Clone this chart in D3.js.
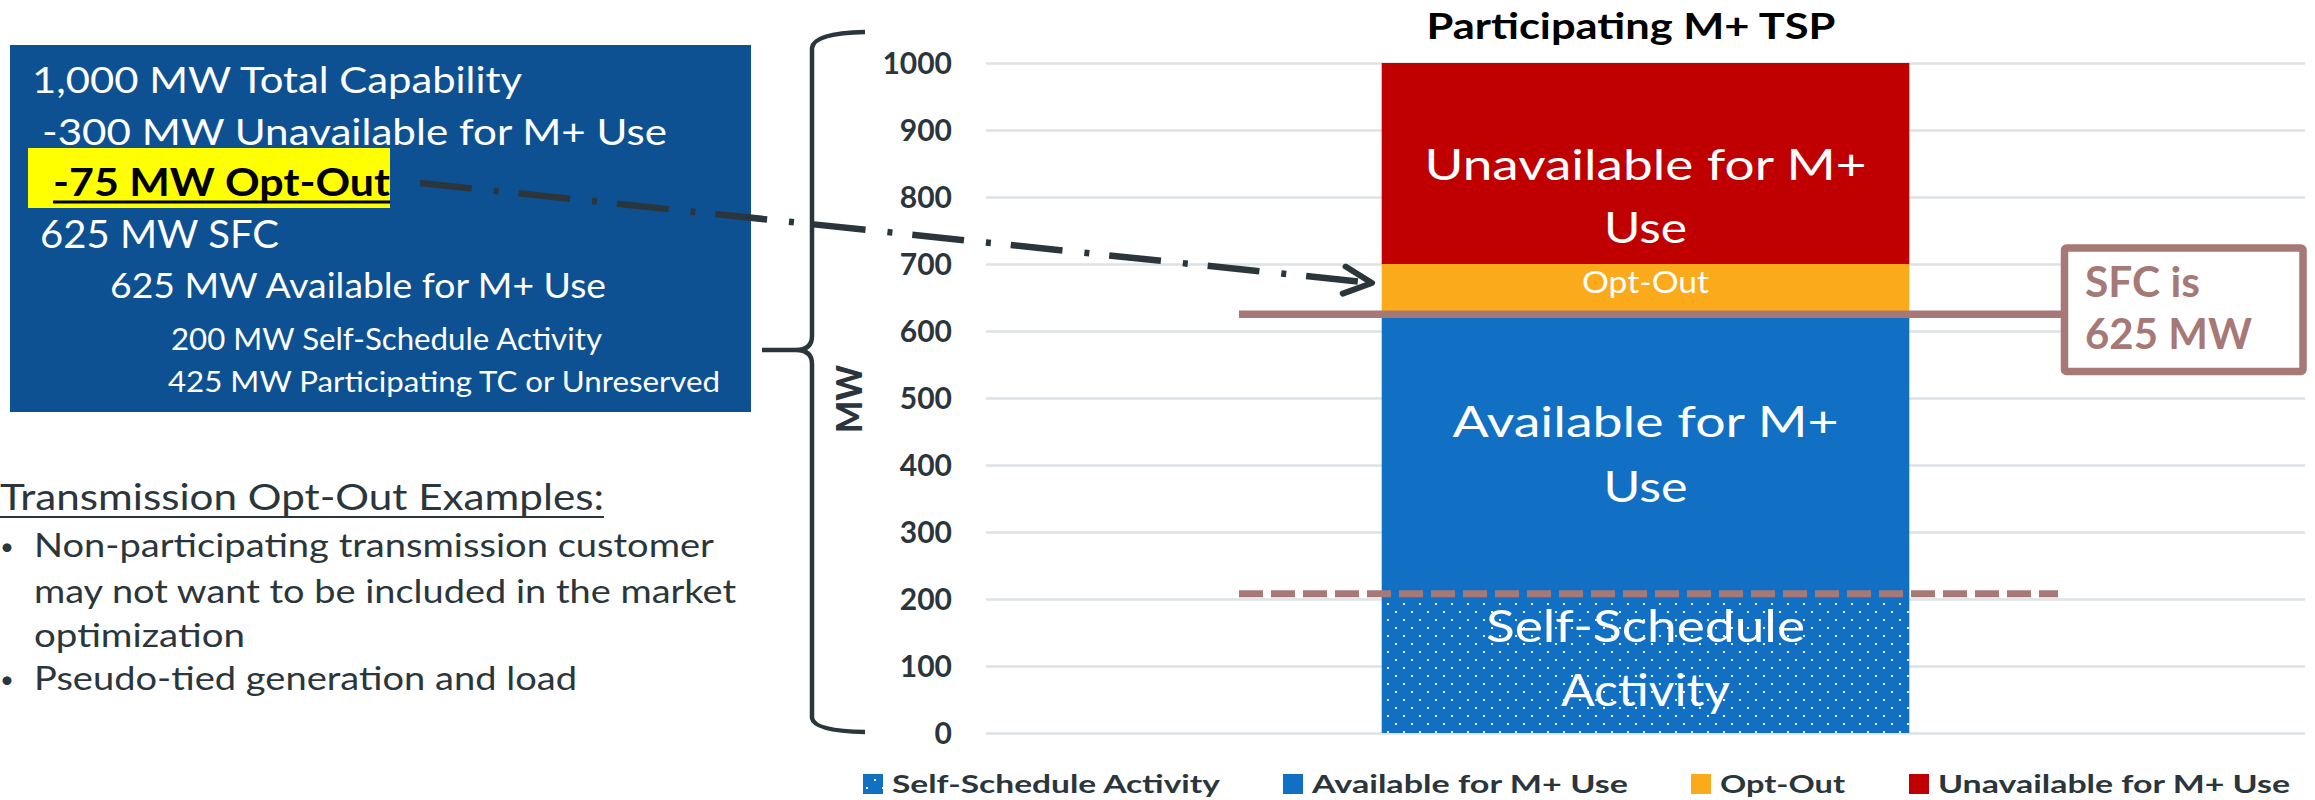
<!DOCTYPE html>
<html>
<head>
<meta charset="utf-8">
<script src="https://cdn.jsdelivr.net/npm/d3@7"></script>
<style>
  body { margin: 0; background: #fff; }
  text { font-family: Lato, "Open Sans", sans-serif; }
</style>
</head>
<body>
<script>
// chart data
var categories = ["Participating M+ TSP"];
var seriesNames = ["Self-Schedule Activity", "Available for M+ Use", "Opt-Out", "Unavailable for M+ Use"];
var seriesValues = [200, 425, 75, 300];
var barLabels = [["Self-Schedule", "Activity"], ["Available for M+", "Use"], ["Opt-Out"], ["Unavailable for M+", "Use"]];
var yTicks = [0, 100, 200, 300, 400, 500, 600, 700, 800, 900, 1000];
var sfcValue = 625;
var selfScheduleMark = 208;
var sfcNote = ["SFC is", "625 MW"];

// text of the left side
var boxLines = [
  "1,000 MW Total Capability",
  "-300 MW Unavailable for M+ Use",
  "-75 MW Opt-Out",
  "625 MW SFC",
  "625 MW Available for M+ Use",
  "200 MW Self-Schedule Activity",
  "425 MW Participating TC or Unreserved"
];
var exampleTitle = "Transmission  Opt-Out Examples:";
var exampleLines = [
  "Non-participating transmission customer",
  "may not want to be included in the market",
  "optimization",
  "Pseudo-tied generation and load"
];

var colors = ["#1170c4", "#1170c4", "#fbaa1b", "#c00000"];
var dark = "#2b363c";
var rose = "#a67876";

var svg = d3.select("body").append("svg")
  .attr("width", 2315)
  .attr("height", 800);

// stretch text to the measured width
function fit(sel, w) {
  sel.attr("textLength", w).attr("lengthAdjust", "spacingAndGlyphs");
}

var defs = svg.append("defs");
var pat = defs.append("pattern")
  .attr("id", "dots")
  .attr("patternUnits", "userSpaceOnUse")
  .attr("width", 16).attr("height", 16);
pat.append("rect").attr("width", 16).attr("height", 16).attr("fill", "#1170c4");
pat.append("rect").attr("x", 3).attr("y", 3).attr("width", 2).attr("height", 2).attr("fill", "#fff");
pat.append("rect").attr("x", 11).attr("y", 11).attr("width", 2).attr("height", 2).attr("fill", "#fff");

defs.append("marker")
  .attr("id", "arrow")
  .attr("markerUnits", "userSpaceOnUse")
  .attr("viewBox", "-34 -20 40 40")
  .attr("markerWidth", 40).attr("markerHeight", 40)
  .attr("refX", 0).attr("refY", 0)
  .attr("orient", "auto")
  .style("overflow", "visible")
  .append("path")
  .attr("d", "M-28,-13.6 L0,0 L-28,13.6")
  .attr("fill", "none")
  .attr("stroke", dark)
  .attr("stroke-width", 6)
  .attr("stroke-linecap", "round")
  .attr("stroke-linejoin", "round");

// scales
var x = d3.scaleBand()
  .domain(categories)
  .range([986, 2305])
  .paddingInner(0)
  .paddingOuter(0.75);

var y = d3.scaleLinear()
  .domain([0, 1000])
  .range([733, 63]);

// gridlines
var grid = svg.append("g")
  .attr("transform", "translate(2305,0)")
  .call(d3.axisLeft(y).tickValues(yTicks).tickSize(2305 - 986).tickFormat(""));
grid.select(".domain").remove();
grid.selectAll("line").attr("stroke", "#dde2e6").attr("stroke-width", 2.5);

// y axis labels
var yAxis = svg.append("g")
  .attr("transform", "translate(986,0)")
  .call(d3.axisLeft(y).tickValues(yTicks).tickSize(0).tickPadding(34).tickFormat(d3.format("d")));
yAxis.select(".domain").remove();
yAxis.selectAll("text")
  .attr("fill", dark)
  .style("font-size", "30px")
  .style("font-weight", "bold")
  .style("font-family", "Lato, sans-serif")
  .attr("dy", "0.36em");

svg.append("text")
  .attr("transform", "translate(862,399) rotate(-90)")
  .attr("text-anchor", "middle")
  .attr("fill", dark)
  .style("font-size", "36px")
  .style("font-weight", "900")
  .text("MW")
  .call(fit, 68);

// chart title
svg.append("text")
  .attr("x", 1631)
  .attr("y", 39)
  .attr("text-anchor", "middle")
  .attr("fill", "#000")
  .style("font-size", "36px")
  .style("font-weight", "bold")
  .text(categories[0])
  .call(fit, 409);

// stacked segments
var ends = d3.cumsum(seriesValues);
var segs = seriesValues.map(function(v, i) {
  return { name: seriesNames[i], y0: ends[i] - v, y1: ends[i], i: i };
});

svg.selectAll(".seg")
  .data(segs)
  .enter()
  .append("rect")
  .attr("class", "seg")
  .attr("x", x(categories[0]))
  .attr("width", x.bandwidth())
  .attr("y", function(d) { return y(d.y1); })
  .attr("height", function(d) { return y(d.y0) - y(d.y1); })
  .attr("fill", function(d) { return d.i === 0 ? "url(#dots)" : colors[d.i]; });

// label offsets from segment middle, and their widths
var labelDy = [[-24, 40], [-20, 45], [4], [16, 79]];
var labelW = [[319, 169], [386, 84], [127], [442, 83]];
var labelSize = [44, 42, 31, 42];
var cx = x(categories[0]) + x.bandwidth() / 2;
segs.forEach(function(d) {
  var mid = (y(d.y0) + y(d.y1)) / 2;
  barLabels[d.i].forEach(function(line, j) {
    svg.append("text")
      .attr("x", cx)
      .attr("y", mid + labelDy[d.i][j])
      .attr("text-anchor", "middle")
      .attr("fill", "#fff")
      .style("font-size", labelSize[d.i] + "px")
      .text(line)
      .call(fit, labelW[d.i][j]);
  });
});

// SFC line and box
svg.append("line")
  .attr("x1", 1239).attr("x2", 2062)
  .attr("y1", y(sfcValue)).attr("y2", y(sfcValue))
  .attr("stroke", rose).attr("stroke-width", 7.5);

svg.append("line")
  .attr("x1", 1239).attr("x2", 2058)
  .attr("y1", y(selfScheduleMark)).attr("y2", y(selfScheduleMark))
  .attr("stroke", rose).attr("stroke-width", 7)
  .attr("stroke-dasharray", "24,8");

svg.append("rect")
  .attr("x", 2064.5).attr("y", 248)
  .attr("width", 238.5).attr("height", 123.5)
  .attr("rx", 2)
  .attr("fill", "#fff")
  .attr("stroke", rose).attr("stroke-width", 7.5);

svg.selectAll(".sfc")
  .data(sfcNote)
  .enter()
  .append("text")
  .attr("class", "sfc")
  .attr("x", 2085)
  .attr("y", function(d, i) { return 297 + i * 51.5; })
  .attr("fill", rose)
  .style("font-size", "42px")
  .style("font-weight", "bold")
  .text(function(d) { return d; })
  .each(function(d, i) { d3.select(this).call(fit, [115, 167][i]); });

// brace
svg.append("path")
  .attr("d", "M865,32 Q814,33 812,48 L812,336 Q812,350 796,350 L762,350 M796,350 Q812,350 812,364 L812,718 Q814,731 865,732")
  .attr("fill", "none")
  .attr("stroke", dark)
  .attr("stroke-width", 4.5);

// left blue box
svg.append("rect")
  .attr("x", 10).attr("y", 45)
  .attr("width", 741).attr("height", 367)
  .attr("fill", "#0e5193");

svg.append("rect")
  .attr("x", 28).attr("y", 148)
  .attr("width", 362).attr("height", 60)
  .attr("fill", "#ffff00");

var boxLayout = [
  { x: 32, y: 93, size: 37, w: 490 },
  { x: 42, y: 145, size: 37, w: 625 },
  { x: 53, y: 196, size: 38, w: 337, bold: true },
  { x: 40, y: 248, size: 38, w: 239 },
  { x: 110, y: 298, size: 35, w: 496 },
  { x: 171, y: 350, size: 30, w: 431 },
  { x: 168, y: 392, size: 29, w: 552 }
];

boxLines.forEach(function(t, i) {
  var L = boxLayout[i];
  svg.append("text")
    .attr("x", L.x).attr("y", L.y)
    .attr("fill", L.bold ? "#000" : "#fff")
    .style("font-size", L.size + "px")
    .style("font-weight", L.bold ? "bold" : "normal")
    .text(t)
    .call(fit, L.w);
});
svg.append("line")
  .attr("x1", 53).attr("x2", 390)
  .attr("y1", 202).attr("y2", 202)
  .attr("stroke", "#000").attr("stroke-width", 3);

// examples text
svg.append("text")
  .attr("x", 0).attr("y", 510)
  .attr("fill", dark)
  .style("font-size", "37px")
  .text(exampleTitle)
  .call(fit, 604);
svg.append("line")
  .attr("x1", 0).attr("x2", 604)
  .attr("y1", 517).attr("y2", 517)
  .attr("stroke", dark).attr("stroke-width", 2);

var exY = [557, 603, 647, 690];
var exW = [680, 702, 211, 543];
exampleLines.forEach(function(t, i) {
  svg.append("text")
    .attr("x", 34).attr("y", exY[i])
    .attr("fill", dark)
    .style("font-size", "33px")
    .text(t)
    .call(fit, exW[i]);
});
[0, 3].forEach(function(i) {
  svg.append("text")
    .attr("x", 0).attr("y", exY[i] - 2)
    .attr("fill", dark)
    .style("font-size", "24px")
    .text("\u2022");
});

// dash-dot arrow to the opt-out segment
svg.append("line")
  .attr("x1", 420).attr("y1", 183)
  .attr("x2", 1372).attr("y2", 283)
  .attr("stroke", dark)
  .attr("stroke-width", 6.5)
  .attr("stroke-dasharray", "52,22,5,20")
  .attr("marker-end", "url(#arrow)");

// legend
var legX = [863, 1283, 1691, 1909];
var legW = [328, 316, 125, 352];
var legend = svg.selectAll(".leg")
  .data(seriesNames)
  .enter()
  .append("g")
  .attr("class", "leg")
  .attr("transform", function(d, i) { return "translate(" + legX[i] + ",0)"; });

legend.append("rect")
  .attr("y", 774)
  .attr("width", 20).attr("height", 20)
  .attr("fill", function(d, i) { return i === 0 ? "url(#dots)" : colors[i]; });

legend.append("text")
  .attr("x", 29)
  .attr("y", 793)
  .attr("fill", dark)
  .style("font-size", "25px")
  .style("font-weight", "bold")
  .text(function(d) { return d; })
  .each(function(d, i) { d3.select(this).call(fit, legW[i]); });
</script>
</body>
</html>
